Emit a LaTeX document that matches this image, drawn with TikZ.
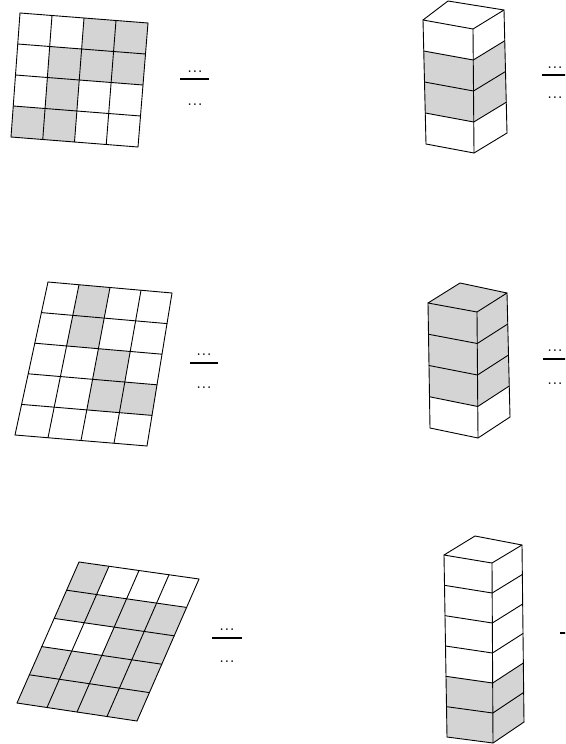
\documentclass[tikz,border=0pt]{standalone}
\usetikzlibrary{calc}
\tikzset{
  cellfill/.style={fill=black!17},
  gridline/.style={line width=0.9pt, line join=round, line cap=round},
  fracline/.style={line width=1.1pt},
  dotsnode/.style={inner sep=0pt, font=\large\bfseries},
}
\newcommand{\dd}{.\kern1.5pt.\kern1.5pt.}
% grid: name, A(tl), B(tr), C(br), D(bl), ncols, nrows
\newcommand{\mkgrid}[7]{%
  \foreach \i in {0,...,#6}{
    \coordinate (#1t\i) at ($#2!\i/#6!#3$);
    \coordinate (#1b\i) at ($#5!\i/#6!#4$);
    \foreach \j in {0,...,#7}{
      \coordinate (#1-\i-\j) at ($(#1t\i)!\j/#7!(#1b\i)$);
    }
  }
}
\newcommand{\shadecells}[2]{%
  \foreach \i/\j in {#2}{
    \pgfmathtruncatemacro\ii{\i+1}
    \pgfmathtruncatemacro\jj{\j+1}
    \fill[cellfill] (#1-\i-\j) -- (#1-\ii-\j) -- (#1-\ii-\jj) -- (#1-\i-\jj) -- cycle;
  }
}
\newcommand{\gridlines}[3]{%
  \foreach \i in {0,...,#2}{\draw[gridline] (#1-\i-0) -- (#1-\i-#3);}
  \foreach \j in {0,...,#3}{\draw[gridline] (#1-0-\j) -- (#1-#2-\j);}
}
% prism: name, P, Q, R, S, P', Q', R', nlayers
\newcommand{\mkprism}[9]{%
  \coordinate (#1S) at #5;
  \foreach \k in {0,...,#9}{
    \coordinate (#1L\k) at ($#2!\k/#9!#6$);
    \coordinate (#1F\k) at ($#3!\k/#9!#7$);
    \coordinate (#1R\k) at ($#4!\k/#9!#8$);
  }
}
\newcommand{\shadelayers}[2]{%
  \foreach \k in {#2}{
    \pgfmathtruncatemacro\kk{\k+1}
    \fill[cellfill] (#1L\k) -- (#1F\k) -- (#1F\kk) -- (#1L\kk) -- cycle;
    \fill[cellfill] (#1F\k) -- (#1R\k) -- (#1R\kk) -- (#1F\kk) -- cycle;
  }
}
\newcommand{\prismlines}[2]{%
  \draw[gridline] (#1L0) -- (#1F0) -- (#1R0) -- (#1S) -- cycle;
  \foreach \k in {1,...,#2}{\draw[gridline] (#1L\k) -- (#1F\k) -- (#1R\k);}
  \draw[gridline] (#1L0) -- (#1L#2);
  \draw[gridline] (#1F0) -- (#1F#2);
  \draw[gridline] (#1R0) -- (#1R#2);
}
\begin{document}
\begin{tikzpicture}[x=1pt,y=-1pt]
\useasboundingbox (0,0) rectangle (565,744);
\clip (0,0) rectangle (565,744);

% ---------- grid 1 ----------
\mkgrid{ga}{(20,13)}{(148,23)}{(138,147)}{(11,137)}{4}{4}
\shadecells{ga}{2/0,3/0,1/1,2/1,3/1,1/2,0/3,1/3}
\gridlines{ga}{4}{4}
\node[dotsnode] (fan) at (195,72) {\dd};
\coordinate (fal) at (180,79);
\coordinate (far) at (209,79);
\draw[fracline] (fal) -- (far);
\node[dotsnode] (fad) at (195,105) {\dd};

% ---------- grid 2 ----------
\mkgrid{gb}{(48,282)}{(172,293)}{(147,446)}{(15,435)}{4}{5}
\shadecells{gb}{1/0,1/1,2/2,2/3,3/3}
\gridlines{gb}{4}{5}
\node[dotsnode] (fbn) at (204,355) {\dd};
\coordinate (fbl) at (190,363);
\coordinate (fbr) at (218,363);
\draw[fracline] (fbl) -- (fbr);
\node[dotsnode] (fbd) at (204,388) {\dd};

% ---------- grid 3 ----------
\mkgrid{gc}{(79,562)}{(199,579)}{(137,721)}{(17,703)}{4}{5}
\shadecells{gc}{0/0,0/1,1/1,2/1,3/1,2/2,3/2,0/3,1/3,2/3,3/3,0/4,1/4,2/4,3/4}
\gridlines{gc}{4}{5}
\node[dotsnode] (fcn) at (227,630) {\dd};
\coordinate (fcl) at (212,638);
\coordinate (fcr) at (242,638);
\draw[fracline] (fcl) -- (fcr);
\node[dotsnode] (fcd) at (227,662) {\dd};

% ---------- prism 1 ----------
\mkprism{pa}{(423,20)}{(473,29)}{(504,10)}{(448,1)}{(426,144)}{(474,153)}{(507,133)}{4}
\shadelayers{pa}{1,2}
\prismlines{pa}{4}
\node[dotsnode] (pan) at (555,68) {\dd};
\coordinate (pal) at (542,75);
\coordinate (par) at (572,75);
\draw[fracline] (pal) -- (par);
\node[dotsnode] (pad) at (555,98) {\dd};

% ---------- prism 2 ----------
\mkprism{pb}{(428,303)}{(477,312)}{(507,293)}{(460,283)}{(430,428)}{(478,438)}{(510,417)}{4}
\fill[cellfill] (pbL0) -- (pbF0) -- (pbR0) -- (pbS) -- cycle;
\shadelayers{pb}{0,1,2}
\prismlines{pb}{4}
\node[dotsnode] (pbn) at (555,351) {\dd};
\coordinate (pbl) at (543,359);
\coordinate (pbr) at (573,359);
\draw[fracline] (pbl) -- (pbr);
\node[dotsnode] (pbd) at (555,384) {\dd};

% ---------- prism 3 ----------
\mkprism{pc}{(444,555)}{(492,563)}{(522,545)}{(475,536)}{(447,737)}{(493,743)}{(524,722)}{6}
\shadelayers{pc}{4,5}
\prismlines{pc}{6}
\coordinate (pcl) at (560,633);
\coordinate (pcr) at (590,633);
\draw[fracline] (pcl) -- (pcr);
\end{tikzpicture}
\end{document}
